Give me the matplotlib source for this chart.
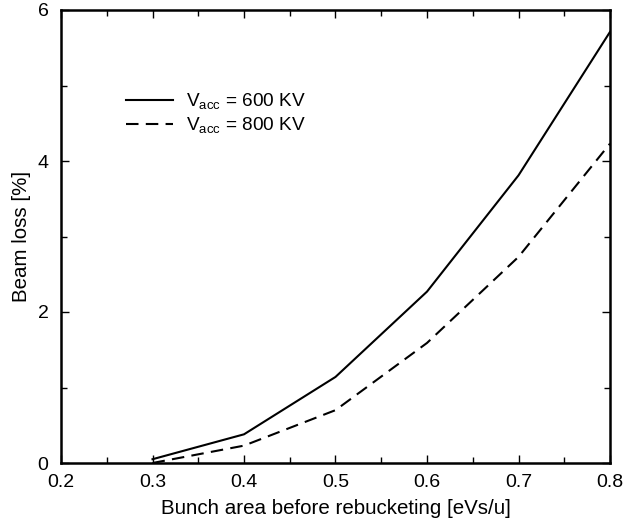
import matplotlib
matplotlib.use("Agg")
import matplotlib.pyplot as plt
from matplotlib.ticker import MultipleLocator

plt.rcParams['font.family'] = ['Liberation Sans', 'DejaVu Sans']
plt.rcParams['mathtext.fontset'] = 'custom'
plt.rcParams['mathtext.rm'] = 'Liberation Sans'

bunch_area = [0.3, 0.4, 0.5, 0.6, 0.7, 0.8]
loss_600 = [0.05, 0.38, 1.14, 2.27, 3.81, 5.71]
loss_800 = [0.0, 0.23, 0.70, 1.59, 2.73, 4.23]
labels = [r'V$_{\mathregular{acc}}$ = 600 KV', r'V$_{\mathregular{acc}}$ = 800 KV']

fig = plt.figure(figsize=(6.28, 5.21), dpi=100)
ax = fig.add_axes([61/628, 1-463/521, (610-61)/628, (463-10)/521])

ax.plot(bunch_area, loss_600, color='black', lw=1.5, label=labels[0])
ax.plot(bunch_area, loss_800, color='black', lw=1.5, dashes=(6, 3.5), label=labels[1])

ax.set_xlim(0.2, 0.8)
ax.set_ylim(0, 6)
ax.xaxis.set_major_locator(MultipleLocator(0.1))
ax.xaxis.set_minor_locator(MultipleLocator(0.05))
ax.yaxis.set_major_locator(MultipleLocator(2))
ax.yaxis.set_minor_locator(MultipleLocator(1))
ax.tick_params(which='both', direction='in', top=True, right=True, labelsize=14, width=1)
ax.tick_params(which='major', length=6)
ax.tick_params(which='minor', length=4)
ax.tick_params(axis='x', which='major', pad=8)
ax.tick_params(axis='y', which='major', pad=9)
for s in ax.spines.values():
    s.set_linewidth(1.8)

ax.set_xlabel('Bunch area before rebucketing [eVs/u]', fontsize=14.8, labelpad=6)
ax.set_ylabel('Beam loss [%]', fontsize=14.8, labelpad=5)

leg = ax.legend(loc='upper left', bbox_to_anchor=(126/628, 1-92/521),
                bbox_transform=fig.transFigure, frameon=False, borderpad=0,
                borderaxespad=0, fontsize=13.7, handlelength=2.45,
                handletextpad=0.72, labelspacing=0.2)

fig.savefig('out.png', dpi=100)
